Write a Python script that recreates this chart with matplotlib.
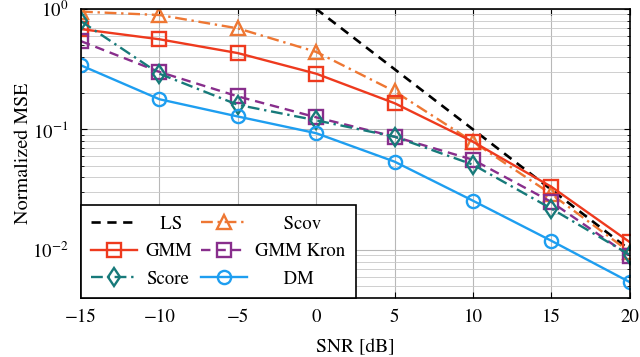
import numpy as np
import matplotlib
matplotlib.use("Agg")
import matplotlib.pyplot as plt

plt.rcParams['font.family'] = 'STIXGeneral'
plt.rcParams['mathtext.fontset'] = 'stix'

# SNR grid in dB
snr = [-15, -10, -5, 0, 5, 10, 15, 20]
snr_labels = ['\u221215', '\u221210', '\u22125', '0', '5', '10', '15', '20']

# normalized MSE
mse_ls = [31.6, 10.0, 3.16, 1.0, 0.316, 0.1, 0.0316, 0.01]
mse_scov = [0.95, 0.89, 0.69, 0.44, 0.207, 0.079, 0.029, 0.0096]
mse_gmm = [0.68, 0.56, 0.43, 0.29, 0.165, 0.079, 0.0334, 0.0116]
mse_kron = [0.54, 0.30, 0.188, 0.126, 0.087, 0.056, 0.025, 0.0089]
mse_score = [0.79, 0.29, 0.16, 0.119, 0.087, 0.051, 0.022, 0.0091]
mse_dm = [0.34, 0.178, 0.128, 0.093, 0.054, 0.0256, 0.0119, 0.0054]

c_red = '#ee3a1e'
c_orange = '#ee7733'
c_purple = '#882e8c'
c_teal = '#177a7a'
c_blue = '#1e9ef0'

fig = plt.figure(figsize=(6.4, 3.57), dpi=100)
ax = fig.add_axes([0.1266, 0.165, 0.8574, 0.81])

mk = dict(markersize=9.5, markerfacecolor='none', markeredgewidth=1.7, linewidth=1.7)

# leading spaces roughly centre the labels like the original legend
h_ls, = ax.plot(snr, mse_ls, color='black', linestyle=(0, (3.5, 2.5)), linewidth=1.9, label='   LS')
h_scov, = ax.plot(snr, mse_scov, color=c_orange, linestyle=(0, (5, 2, 1, 2)), marker='^', label='      Scov', **mk)
h_gmm, = ax.plot(snr, mse_gmm, color=c_red, linestyle='-', marker='s', label='GMM', **mk)
h_kron, = ax.plot(snr, mse_kron, color=c_purple, linestyle=(0, (4, 2.5)), marker='s', label='GMM Kron', **mk)
h_score, = ax.plot(snr, mse_score, color=c_teal, linestyle=(0, (5, 2, 1, 2)), marker='d', label='Score', **mk)
h_dm, = ax.plot(snr, mse_dm, color=c_blue, linestyle='-', marker='o', label='      DM', **mk)

ax.set_yscale('log')
ax.set_xlim(-15, 20)
ax.set_ylim(10 ** -2.4, 1.0)
ax.set_xticks(snr)
ax.set_xticklabels(snr_labels)

ax.grid(True, which='major', color='#b8b8b8', linewidth=0.8)
ax.grid(True, which='minor', axis='y', color='#c8c8c8', linewidth=0.6)
ax.tick_params(which='both', direction='in', top=True, right=True, labelsize=13.5)
ax.tick_params(which='major', length=4)
ax.tick_params(which='minor', length=2)
ax.tick_params(axis='x', pad=8)
ax.tick_params(axis='y', pad=9)

for spine in ax.spines.values():
    spine.set_linewidth(1.2)
    spine.set_color('black')

ax.set_xlabel('SNR [dB]', fontsize=14, labelpad=9)
ax.set_ylabel('Normalized MSE', fontsize=14.5, labelpad=0)

leg = ax.legend(handles=[h_ls, h_gmm, h_score, h_scov, h_kron, h_dm],
                ncol=2, loc='lower left', bbox_to_anchor=(0, 0),
                fontsize=13.5, frameon=True, fancybox=False, framealpha=1,
                edgecolor='black', borderaxespad=0, numpoints=1,
                handlelength=2.45, columnspacing=0.45, labelspacing=0.55,
                borderpad=0.55, handletextpad=0.45)
leg.get_frame().set_linewidth(1.2)

plt.savefig('out.png', dpi=100)
